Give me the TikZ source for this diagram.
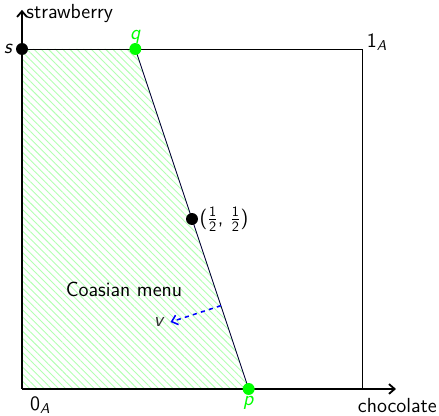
\documentclass[tikz,border=0pt]{standalone}
\usepackage{amsmath}
\usetikzlibrary{patterns.meta,arrows.meta}
\tikzset{
  axis/.style={line width=1.3pt,-{Straight Barb[length=4pt,width=7pt]}},
  frame/.style={line width=0.6pt},
  dotb/.style={circle,fill=black,inner sep=0pt,minimum size=8.5pt},
  dotg/.style={circle,fill=green,inner sep=0pt,minimum size=8.5pt},
  lbl/.style={font=\fontsize{14.5}{16}\selectfont\sffamily},
}
\newcommand{\tx}[1]{\text{#1}}
\begin{document}
\begin{tikzpicture}[x=8.5cm,y=8.5cm]
\useasboundingbox (-0.0647,-0.0794) rectangle (1.2265,1.1441);
\coordinate (O) at (0,0);
\coordinate (X) at (1.1,0);
\coordinate (Y) at (0,1.115);
\coordinate (one) at (1,1);
\fill[pattern={Lines[angle=-45,distance=3.6pt,line width=0.65pt]},pattern color=green!30] (0,0) -- (2/3,0) -- (1/3,1) -- (0,1) -- cycle;
\draw[frame] (0,1) -- (one) -- (1,0);
\draw[frame,black!80!blue] (1/3,1) -- (2/3,0);
\draw[axis] (O) -- (X);
\draw[axis] (O) -- (Y);
\node[dotb] (s) at (0,1) {};
\node[dotg] (q) at (1/3,1) {};
\node[dotg] (p) at (2/3,0) {};
\node[dotb] (h) at (0.5,0.5) {};
\node[lbl,left=-1.5pt] at (s.west) {\textit{s}};
\node[lbl,above=-4pt,text=green] at (q.north) {\textit{q}};
\node[lbl,below=-2.5pt,text=green] at (p.south) {\textit{p}};
\node[lbl,right=-2.5pt] at (h.east) {($\frac{\tx{1}}{\tx{2}}$, $\frac{\tx{1}}{\tx{2}}$)};
\node[lbl,anchor=south west,inner sep=2pt] at (1.005,0.985) {1\textsubscript{\textit{A}}};
\node[lbl,anchor=north west,inner sep=2pt] at (0.015,-0.015) {0\textsubscript{\textit{A}}};
\node[lbl,anchor=west,inner sep=1pt] at (0.008,1.105) {strawberry};
\node[lbl,anchor=north,inner sep=1pt] at (1.104,-0.022) {chocolate};
\node[lbl] (menu) at (0.3,0.292) {Coasian menu};
\coordinate (m) at (0.585,0.245);
\coordinate (t) at (0.437,0.197);
\draw[blue,dashed,line width=1.1pt,-{Straight Barb[length=4pt,width=7pt]}] (m) -- (t);
\node[lbl,anchor=east,inner sep=4pt,text=black!80] (v) at (t) {\textit{v}};
\end{tikzpicture}
\end{document}
